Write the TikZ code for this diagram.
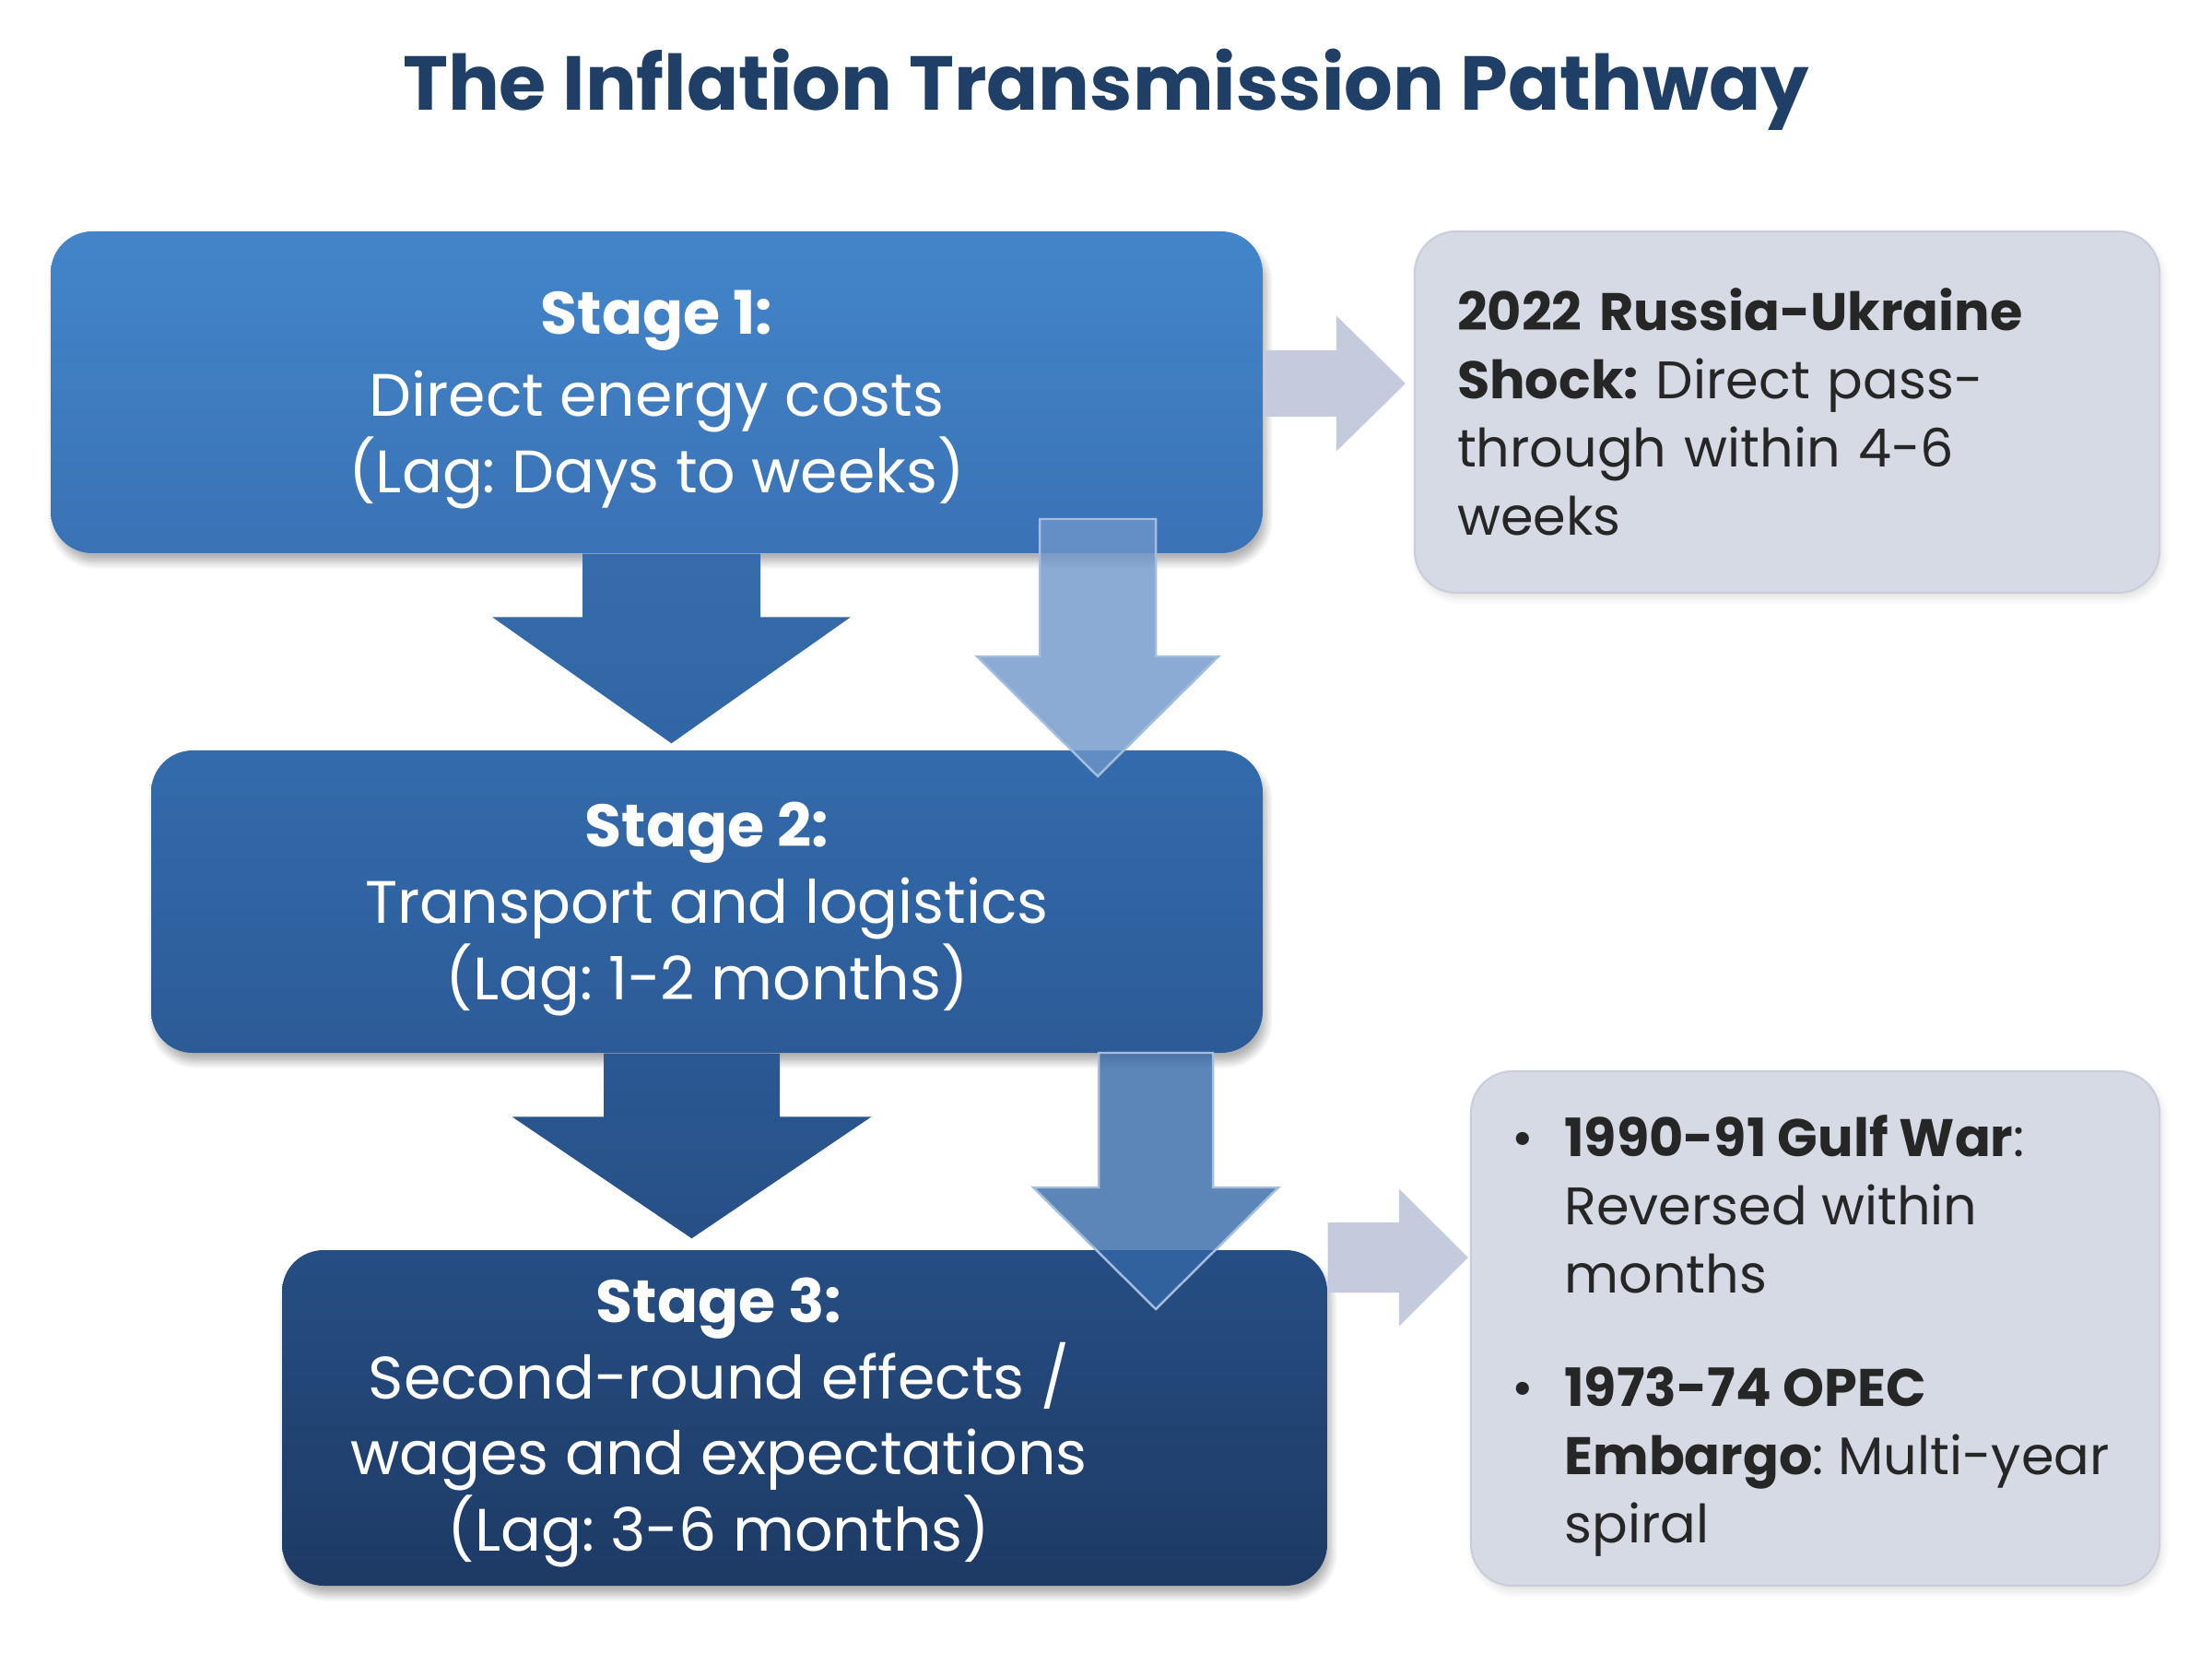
\documentclass[tikz,border=0pt]{standalone}
\usepackage{fontspec}
\setmainfont{Poppins}
\frenchspacing
\usetikzlibrary{positioning, calc, shadows.blur}

\definecolor{titleblue}{HTML}{1F3F66}
\definecolor{sonetop}{HTML}{4385CA}
\definecolor{sonebot}{HTML}{3A72B5}
\definecolor{stwotop}{HTML}{336BAC}
\definecolor{stwobot}{HTML}{2C5B97}
\definecolor{sthreetop}{HTML}{264E84}
\definecolor{sthreebot}{HTML}{1D3A64}
\definecolor{notefill}{HTML}{D6DAE4}
\definecolor{noteline}{HTML}{C9CEDA}
\definecolor{notetext}{HTML}{262626}
\definecolor{sidearrow}{HTML}{C3CBDC}
\definecolor{lagone}{HTML}{6E96CA}
\definecolor{lagtwo}{HTML}{3468A6}
\definecolor{lagedge}{HTML}{A5BEDD}

% block arrow pointing down: [opts]{top}{tip}{shaft half}{head half}{head length}
\newcommand{\blockdown}[6][]{%
  \path[#1] let \p1=(#2), \p2=(#3) in
    (\x1-#4,\y1) -- (\x1+#4,\y1) -- (\x1+#4,\y2+#6) -- (\x1+#5,\y2+#6)
    -- (\x1,\y2) -- (\x1-#5,\y2+#6) -- (\x1-#4,\y2+#6) -- cycle;}
% block arrow pointing right: [opts]{start}{tip}{shaft half}{head half}{head length}
\newcommand{\blockright}[6][]{%
  \path[#1] let \p1=(#2), \p2=(#3) in
    (\x1,\y1+#4) -- (\x2-#6,\y1+#4) -- (\x2-#6,\y1+#5) -- (\x2,\y1)
    -- (\x2-#6,\y1-#5) -- (\x2-#6,\y1-#4) -- (\x1,\y1-#4) -- cycle;}

\begin{document}
\begin{tikzpicture}[
    stagebox/.style={rounded corners=0.45cm, inner sep=0pt,
      blur shadow={shadow xshift=0.04cm, shadow yshift=-0.1cm, shadow opacity=30, shadow blur steps=8}},
    stagetext/.style={text=white, align=center, font=\fontsize{18.5}{23.5}\selectfont},
    notebox/.style={rounded corners=0.45cm, fill=notefill, draw=noteline, line width=0.6pt,
      text=notetext, align=left, font=\fontsize{16.3}{21}\selectfont,
      blur shadow={shadow xshift=0.03cm, shadow yshift=-0.06cm, shadow opacity=12, shadow blur steps=6}},
    notetext/.style={text=notetext, align=left, font=\fontsize{16.3}{21}\selectfont},
    lagarrow/.style={fill opacity=0.8, draw=lagedge, line width=0.7pt, line join=miter},
  ]
  \useasboundingbox (0,0) rectangle (24,17.92);

  \node[anchor=base, text=titleblue, font=\fontsize{23.6}{28}\selectfont\bfseries] (title) at (12,16.72) {The Inflation Transmission Pathway};

  % stages
  \node[stagebox, top color=sonetop, bottom color=sonebot, minimum width=13.15cm, minimum height=3.49cm] (s1) at (7.125,13.665) {};
  \node[stagetext] (t1) at ([yshift=-0.08cm]s1.center)
    {\textbf{Stage 1:}\\[0.06cm]Direct energy costs\\(Lag: Days to weeks)};
  \node[stagebox, top color=stwotop, bottom color=stwobot, minimum width=12.06cm, minimum height=3.28cm] (s2) at (7.67,8.14) {};
  \node[stagetext] (t2) at ([yshift=-0.08cm]s2.center)
    {\textbf{Stage 2:}\\Transport and logistics\\(Lag: 1-2 months)};
  \node[stagebox, top color=sthreetop, bottom color=sthreebot, minimum width=11.34cm, minimum height=3.64cm] (s3) at (8.73,2.54) {};
  \node[stagetext] (t3) at (7.8,2.49)
    {\textbf{Stage 3:}\\Second-round effects /\\wages and expectations\\(Lag: 3-6 months)};

  % examples
  \node[notebox, minimum width=8.08cm, minimum height=3.92cm, text width=7.16cm, inner xsep=0.46cm] (r1) at (19.39,13.45)
    {\textbf{2022 Russia-Ukraine}\\\textbf{Shock:} Direct pass-\\through within 4-6\\weeks};
  \node[notebox, minimum width=7.47cm, minimum height=5.58cm] (r2) at (19.695,3.51) {};
  \node[notetext, anchor=west] (t5) at ([xshift=0.9cm, yshift=-0.08cm]r2.west)
    {\leavevmode\llap{\textbullet\hspace{0.33cm}}\textbf{1990-91 Gulf War}:\\Reversed within\\months\\[0.5cm]
     \leavevmode\llap{\textbullet\hspace{0.33cm}}\textbf{1973-74 OPEC}\\\textbf{Embargo}: Multi-year\\spiral};

  % main flow
  \coordinate (b1top) at ([xshift=0.16cm]s1.south);
  \coordinate (b1tip) at ([yshift=0.07cm]b1top |- s2.north);
  \blockdown[top color=sonebot!95!black, bottom color=stwotop!95!black]{b1top}{b1tip}{0.965cm}{1.945cm}{1.37cm}
  \coordinate (b2top) at ([xshift=-0.165cm]s2.south);
  \coordinate (b2tip) at ([yshift=0.12cm]b2top |- s3.north);
  \blockdown[top color=stwobot!97!black, bottom color=sthreetop!90!stwobot]{b2top}{b2tip}{0.955cm}{1.95cm}{1.32cm}

  % lag arrows
  \coordinate (l1top) at (11.91,12.29);
  \coordinate (l1tip) at (11.91,9.50);
  \blockdown[lagarrow, fill=lagone]{l1top}{l1tip}{0.63cm}{1.31cm}{1.30cm}
  \coordinate (l2top) at (12.54,6.50);
  \coordinate (l2tip) at (12.54,3.72);
  \blockdown[lagarrow, fill=lagtwo]{l2top}{l2tip}{0.62cm}{1.33cm}{1.32cm}

  % to examples
  \coordinate (e1from) at ([yshift=0.095cm]s1.east);
  \coordinate (e1to) at ([xshift=-0.09cm]r1.west);
  \blockright[fill=sidearrow]{e1from}{e1to}{0.36cm}{0.735cm}{0.75cm}
  \coordinate (e2from) at ([yshift=1.74cm]s3.east);
  \coordinate (e2to) at ([xshift=-0.02cm]r2.west);
  \blockright[fill=sidearrow]{e2from}{e2to}{0.38cm}{0.745cm}{0.75cm}
\end{tikzpicture}
\end{document}
